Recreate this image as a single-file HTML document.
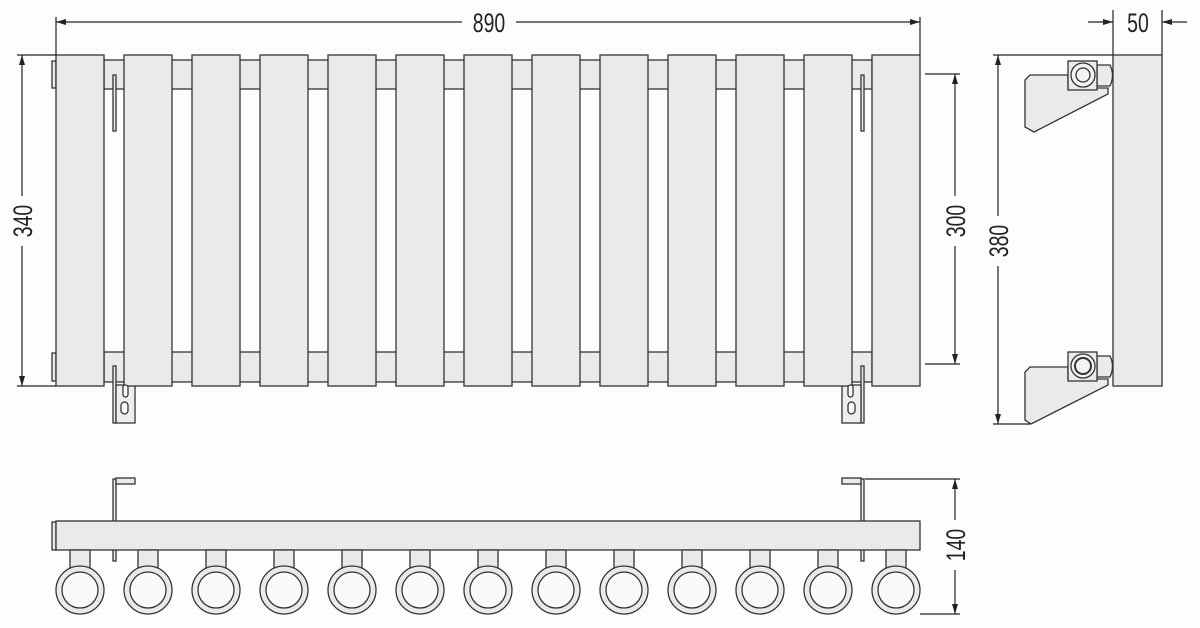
<!DOCTYPE html>
<html><head><meta charset="utf-8"><style>
html,body{margin:0;padding:0;background:#fdfdfd;}
svg{display:block;}
text{font-family:"Liberation Sans",sans-serif;font-size:27px;fill:#222;}
</style></head><body>
<svg width="1200" height="628" viewBox="0 0 1200 628" xmlns="http://www.w3.org/2000/svg">
<defs>
<marker id="a" viewBox="0 0 10 6" refX="10" refY="3" markerWidth="10" markerHeight="6" orient="auto-start-reverse" markerUnits="userSpaceOnUse"><path d="M0,0L10,3L0,6z" fill="#222"/></marker>
</defs>
<g stroke="#333" stroke-width="1.3" fill="#e9eaea">
<!-- front view bars -->
<rect x="104" y="60" width="768" height="29"/>
<rect x="104" y="352" width="768" height="30"/>
<!-- left tabs -->
<rect x="52" y="61" width="4" height="27"/>
<rect x="52" y="353" width="4" height="28"/>
<!-- brackets front -->
<rect x="113" y="75" width="3" height="56"/>
<rect x="113" y="366" width="3" height="57"/>
<rect x="116" y="385" width="19" height="38" fill="#eee"/>
<rect x="121" y="402" width="7" height="12" rx="3.5" fill="#fff"/>
<rect x="861" y="75" width="3" height="56"/>
<rect x="861" y="366" width="3" height="57"/>
<rect x="842" y="385" width="19" height="38" fill="#eee"/>
<rect x="848" y="402" width="7" height="12" rx="3.5" fill="#fff"/>
<!-- panels -->
<rect x="56" y="55" width="48" height="331"/>
<rect x="124" y="55" width="48" height="331"/>
<rect x="192" y="55" width="48" height="331"/>
<rect x="260" y="55" width="48" height="331"/>
<rect x="328" y="55" width="48" height="331"/>
<rect x="396" y="55" width="48" height="331"/>
<rect x="464" y="55" width="48" height="331"/>
<rect x="532" y="55" width="48" height="331"/>
<rect x="600" y="55" width="48" height="331"/>
<rect x="668" y="55" width="48" height="331"/>
<rect x="736" y="55" width="48" height="331"/>
<rect x="804" y="55" width="48" height="331"/>
<rect x="872" y="55" width="48" height="331"/>
<rect x="123" y="385" width="5" height="12" rx="2.5" fill="#fff"/>
<rect x="848" y="385" width="5" height="12" rx="2.5" fill="#fff"/>

<!-- side view -->
<rect x="1113" y="55" width="49" height="331"/>
<path d="M1030,75L1068,75L1068,88L1108,88L1108,94L1034,132L1025,127L1025,80Z"/>
<path d="M1097,65L1110,65Q1115,75 1110,86L1097,86Z"/>
<rect x="1068" y="61" width="29" height="29"/>
<circle cx="1083" cy="75" r="12" fill="#f3f3f3"/>
<circle cx="1083" cy="75" r="7" fill="#f3f3f3"/>
<path d="M1030,367L1068,367L1068,379L1108,379L1108,385L1031,424L1025,420L1025,372Z"/>
<path d="M1097,356L1110,356Q1115,366 1110,377L1097,377Z"/>
<rect x="1068" y="352" width="29" height="29"/>
<circle cx="1083" cy="366" r="12" fill="#f3f3f3"/>
<circle cx="1083" cy="366" r="8" fill="#f3f3f3" stroke-width="2"/>

<!-- bottom view -->
<rect x="113" y="479" width="3" height="82"/>
<rect x="116" y="478" width="19" height="6"/>
<rect x="861" y="479" width="3" height="82"/>
<rect x="842" y="478" width="19" height="6"/>
<rect x="52" y="522" width="4" height="28"/>
<rect x="56" y="521" width="864" height="29"/>
<g id="c">
<rect x="70" y="550" width="20" height="18"/>
<circle cx="80" cy="590" r="24"/>
<circle cx="80" cy="590" r="18" fill="#fafafa"/>
</g>
<use href="#c" x="68"/><use href="#c" x="136"/><use href="#c" x="204"/><use href="#c" x="272"/><use href="#c" x="340"/><use href="#c" x="408"/><use href="#c" x="476"/><use href="#c" x="544"/><use href="#c" x="612"/><use href="#c" x="680"/><use href="#c" x="748"/><use href="#c" x="816"/>
</g>

<!-- dimension lines -->
<g stroke="#222" stroke-width="1.2" fill="none">
<line x1="56" y1="17" x2="56" y2="55"/>
<line x1="920" y1="17" x2="920" y2="55"/>
<line x1="56" y1="22" x2="462" y2="22" marker-start="url(#a)"/>
<line x1="516" y1="22" x2="920" y2="22" marker-end="url(#a)"/>
<line x1="17" y1="55" x2="56" y2="55"/>
<line x1="17" y1="386" x2="56" y2="386"/>
<line x1="22" y1="55" x2="22" y2="196" marker-start="url(#a)"/>
<line x1="22" y1="246" x2="22" y2="386" marker-end="url(#a)"/>
<line x1="925" y1="74" x2="960" y2="74"/>
<line x1="925" y1="364" x2="960" y2="364"/>
<line x1="955" y1="74" x2="955" y2="196" marker-start="url(#a)"/>
<line x1="955" y1="246" x2="955" y2="364" marker-end="url(#a)"/>
<line x1="993" y1="55" x2="1113" y2="55"/>
<line x1="993" y1="424" x2="1030" y2="424"/>
<line x1="998" y1="55" x2="998" y2="216" marker-start="url(#a)"/>
<line x1="998" y1="266" x2="998" y2="424" marker-end="url(#a)"/>
<line x1="1113" y1="10" x2="1113" y2="55"/>
<line x1="1162" y1="10" x2="1162" y2="55"/>
<line x1="1088" y1="22" x2="1113" y2="22" marker-end="url(#a)"/>
<line x1="1187" y1="22" x2="1162" y2="22" marker-end="url(#a)"/>
<line x1="865" y1="479" x2="960" y2="479"/>
<line x1="920" y1="614" x2="960" y2="614"/>
<line x1="955" y1="479" x2="955" y2="520" marker-start="url(#a)"/>
<line x1="955" y1="570" x2="955" y2="614" marker-end="url(#a)"/>
</g>
<g>
<text x="489" y="32" text-anchor="middle" transform="translate(489 0) scale(0.72 1) translate(-489 0)">890</text>
<text x="1138" y="32" text-anchor="middle" transform="translate(1138 0) scale(0.72 1) translate(-1138 0)">50</text>
<text transform="translate(32 221) rotate(-90) scale(0.72 1)" text-anchor="middle">340</text>
<text transform="translate(965 221) rotate(-90) scale(0.72 1)" text-anchor="middle">300</text>
<text transform="translate(1008 241) rotate(-90) scale(0.72 1)" text-anchor="middle">380</text>
<text transform="translate(965 545) rotate(-90) scale(0.72 1)" text-anchor="middle">140</text>
</g>
</svg>
</body></html>
